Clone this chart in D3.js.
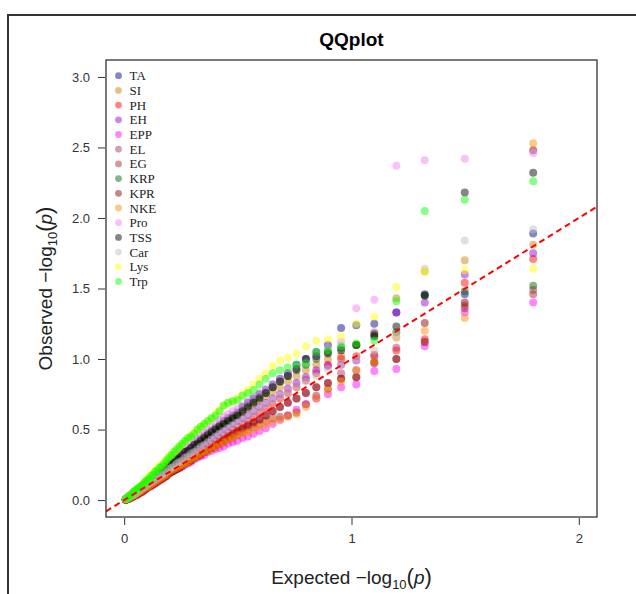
<!DOCTYPE html>
<html>
<head>
<meta charset="utf-8">
<script src="https://cdn.jsdelivr.net/npm/d3@7"></script>
<style>
  body { margin: 0; background: #fff; }
  svg text { font-family: Arial, "Liberation Sans", sans-serif; }
</style>
</head>
<body>
<div id="chart"></div>
<script>
// QQ plot of 15 traits, observed -log10(p) sorted high to low (62 values each)

const traits = ["TA", "SI", "PH", "EH", "EPP", "EL", "EG", "KRP", "KPR", "NKE", "Pro", "TSS", "Car", "Lys", "Trp"];
const colors = ["#00008b", "#cd7f00", "#ff0000", "#9400d3", "#ff00ff", "#b03060", "#a52a2a", "#006400",
                "#8b0000", "#ff8c00", "#ee82ee", "#000000", "#bebebe", "#ffff00", "#00ff00"];

const TA = [1.89, 1.46, 1.46, 1.33, 1.25, 1.24, 1.22, 1.10, 1.05, 1.00,
            0.96, 0.90, 0.86, 0.82, 0.78, 0.75, 0.72, 0.69, 0.66, 0.62,
            0.60, 0.58, 0.56, 0.53, 0.51, 0.49, 0.47, 0.45, 0.43, 0.41,
            0.39, 0.37, 0.35, 0.34, 0.32, 0.30, 0.29, 0.27, 0.26, 0.24,
            0.23, 0.21, 0.20, 0.19, 0.17, 0.16, 0.15, 0.14, 0.13, 0.12,
            0.11, 0.10, 0.09, 0.08, 0.07, 0.06, 0.05, 0.04, 0.03, 0.02,
            0.012, 0.006];
const SI = [1.81, 1.70, 1.62, 1.43, 1.19, 1.10, 1.02, 1.00, 0.96, 0.92,
            0.88, 0.84, 0.80, 0.77, 0.74, 0.71, 0.68, 0.65, 0.62, 0.60,
            0.58, 0.56, 0.54, 0.52, 0.50, 0.48, 0.46, 0.44, 0.42, 0.40,
            0.38, 0.36, 0.34, 0.33, 0.31, 0.30, 0.28, 0.27, 0.25, 0.24,
            0.22, 0.21, 0.20, 0.18, 0.17, 0.16, 0.15, 0.14, 0.13, 0.12,
            0.11, 0.10, 0.09, 0.08, 0.07, 0.06, 0.05, 0.04, 0.03, 0.02,
            0.012, 0.006];
const PH = [1.71, 1.54, 1.14, 1.06, 1.03, 1.02, 1.00, 0.96, 0.90, 0.85,
            0.80, 0.76, 0.72, 0.68, 0.65, 0.62, 0.59, 0.56, 0.54, 0.52,
            0.50, 0.48, 0.46, 0.44, 0.42, 0.40, 0.38, 0.37, 0.35, 0.34,
            0.32, 0.31, 0.29, 0.28, 0.27, 0.25, 0.24, 0.23, 0.21, 0.20,
            0.19, 0.18, 0.17, 0.16, 0.15, 0.14, 0.13, 0.12, 0.11, 0.10,
            0.09, 0.08, 0.07, 0.06, 0.05, 0.045, 0.035, 0.028, 0.02, 0.014,
            0.008, 0.004];
const EH = [1.75, 1.60, 1.40, 1.33, 1.18, 0.99, 0.96, 0.95, 0.92, 0.87,
            0.83, 0.79, 0.75, 0.72, 0.69, 0.66, 0.63, 0.60, 0.58, 0.56,
            0.54, 0.52, 0.50, 0.48, 0.46, 0.44, 0.42, 0.41, 0.39, 0.37,
            0.36, 0.34, 0.32, 0.31, 0.29, 0.28, 0.26, 0.25, 0.24, 0.22,
            0.21, 0.20, 0.18, 0.17, 0.16, 0.15, 0.14, 0.13, 0.12, 0.11,
            0.10, 0.09, 0.08, 0.07, 0.06, 0.05, 0.04, 0.03, 0.025, 0.018,
            0.01, 0.005];
const EPP = [1.40, 1.33, 1.09, 0.93, 0.915, 0.82, 0.80, 0.75, 0.72, 0.68,
             0.64, 0.60, 0.57, 0.54, 0.51, 0.49, 0.47, 0.45, 0.44, 0.42,
             0.41, 0.40, 0.38, 0.37, 0.36, 0.35, 0.34, 0.32, 0.31, 0.30,
             0.29, 0.27, 0.26, 0.25, 0.24, 0.23, 0.22, 0.21, 0.20, 0.19,
             0.17, 0.16, 0.15, 0.14, 0.13, 0.12, 0.11, 0.10, 0.095, 0.085,
             0.075, 0.065, 0.055, 0.05, 0.04, 0.035, 0.028, 0.022, 0.016, 0.01,
             0.006, 0.003];
const EL = [1.49, 1.38, 1.12, 1.08, 1.02, 0.92, 0.90, 0.83, 0.80, 0.76,
            0.72, 0.69, 0.66, 0.63, 0.60, 0.57, 0.54, 0.52, 0.50, 0.48,
            0.46, 0.44, 0.42, 0.40, 0.39, 0.37, 0.36, 0.34, 0.33, 0.31,
            0.30, 0.29, 0.27, 0.26, 0.25, 0.24, 0.22, 0.21, 0.20, 0.19,
            0.18, 0.17, 0.16, 0.15, 0.14, 0.13, 0.12, 0.11, 0.10, 0.09,
            0.08, 0.07, 0.06, 0.055, 0.045, 0.04, 0.032, 0.025, 0.018, 0.012,
            0.007, 0.003];
const EG = [1.46, 1.36, 1.12, 1.00, 0.98, 0.87, 0.86, 0.79, 0.74, 0.68,
            0.62, 0.60, 0.59, 0.58, 0.56, 0.54, 0.52, 0.50, 0.48, 0.46,
            0.44, 0.43, 0.41, 0.40, 0.38, 0.37, 0.35, 0.34, 0.32, 0.31,
            0.30, 0.28, 0.27, 0.26, 0.25, 0.23, 0.22, 0.21, 0.20, 0.19,
            0.18, 0.17, 0.16, 0.15, 0.14, 0.13, 0.12, 0.11, 0.10, 0.09,
            0.08, 0.07, 0.06, 0.055, 0.045, 0.04, 0.032, 0.025, 0.018, 0.012,
            0.007, 0.003];
const KRP = [1.52, 1.48, 1.45, 1.19, 1.17, 1.10, 1.08, 1.05, 1.00, 0.96,
             0.92, 0.88, 0.84, 0.80, 0.76, 0.73, 0.70, 0.67, 0.64, 0.61,
             0.59, 0.57, 0.55, 0.53, 0.51, 0.49, 0.47, 0.45, 0.43, 0.41,
             0.39, 0.37, 0.35, 0.34, 0.32, 0.31, 0.29, 0.28, 0.26, 0.25,
             0.23, 0.22, 0.21, 0.19, 0.18, 0.17, 0.16, 0.15, 0.14, 0.12,
             0.11, 0.10, 0.09, 0.08, 0.07, 0.06, 0.05, 0.04, 0.03, 0.02,
             0.012, 0.006];
const KPR = [2.48, 1.40, 1.255, 1.00, 0.97, 0.87, 0.86, 0.83, 0.80, 0.76,
             0.72, 0.69, 0.66, 0.63, 0.60, 0.57, 0.55, 0.53, 0.51, 0.49,
             0.47, 0.45, 0.43, 0.41, 0.39, 0.37, 0.36, 0.34, 0.33, 0.31,
             0.30, 0.28, 0.27, 0.26, 0.24, 0.23, 0.22, 0.21, 0.20, 0.19,
             0.17, 0.16, 0.15, 0.14, 0.13, 0.12, 0.11, 0.10, 0.095, 0.085,
             0.075, 0.065, 0.055, 0.05, 0.04, 0.035, 0.03, 0.022, 0.016, 0.011,
             0.006, 0.003];
const NKE = [2.53, 1.29, 1.20, 1.15, 0.98, 0.92, 0.84, 0.78, 0.72, 0.66,
             0.61, 0.59, 0.57, 0.56, 0.54, 0.52, 0.50, 0.48, 0.47, 0.46,
             0.44, 0.43, 0.41, 0.40, 0.38, 0.37, 0.35, 0.34, 0.33, 0.31,
             0.30, 0.29, 0.27, 0.26, 0.25, 0.24, 0.23, 0.22, 0.21, 0.20,
             0.18, 0.17, 0.16, 0.15, 0.14, 0.13, 0.12, 0.11, 0.10, 0.09,
             0.085, 0.075, 0.065, 0.055, 0.05, 0.04, 0.035, 0.028, 0.02, 0.014,
             0.008, 0.004];
const Pro = [2.46, 2.42, 2.41, 2.37, 1.42, 1.36, 1.12, 1.08, 1.02, 0.98,
             0.94, 0.90, 0.86, 0.82, 0.79, 0.76, 0.73, 0.70, 0.67, 0.65,
             0.63, 0.61, 0.59, 0.57, 0.55, 0.52, 0.50, 0.48, 0.46, 0.44,
             0.42, 0.40, 0.38, 0.36, 0.34, 0.33, 0.31, 0.29, 0.28, 0.26,
             0.25, 0.23, 0.22, 0.21, 0.19, 0.18, 0.17, 0.16, 0.14, 0.13,
             0.12, 0.11, 0.10, 0.09, 0.08, 0.07, 0.06, 0.05, 0.04, 0.03,
             0.02, 0.01];
const TSS = [2.32, 2.18, 1.45, 1.23, 1.16, 1.10, 1.06, 1.04, 1.02, 1.00,
             0.93, 0.88, 0.84, 0.80, 0.76, 0.72, 0.69, 0.66, 0.63, 0.60,
             0.58, 0.56, 0.54, 0.52, 0.50, 0.48, 0.46, 0.44, 0.42, 0.40,
             0.39, 0.37, 0.35, 0.34, 0.32, 0.30, 0.29, 0.27, 0.26, 0.25,
             0.23, 0.21, 0.20, 0.19, 0.17, 0.16, 0.15, 0.14, 0.13, 0.12,
             0.11, 0.10, 0.09, 0.08, 0.07, 0.06, 0.05, 0.04, 0.03, 0.02,
             0.012, 0.006];
const Car = [1.92, 1.84, 1.64, 1.16, 1.06, 1.00, 0.96, 0.93, 0.88, 0.84,
             0.80, 0.77, 0.74, 0.71, 0.68, 0.65, 0.62, 0.59, 0.57, 0.55,
             0.53, 0.51, 0.49, 0.47, 0.45, 0.43, 0.41, 0.39, 0.38, 0.36,
             0.34, 0.33, 0.31, 0.30, 0.28, 0.27, 0.26, 0.24, 0.23, 0.22,
             0.20, 0.19, 0.18, 0.17, 0.16, 0.15, 0.14, 0.13, 0.12, 0.11,
             0.10, 0.09, 0.08, 0.07, 0.06, 0.05, 0.04, 0.035, 0.025, 0.018,
             0.01, 0.005];
const Lys = [1.64, 1.63, 1.62, 1.51, 1.30, 1.25, 1.16, 1.14, 1.13, 1.09,
             1.04, 1.01, 0.99, 0.95, 0.90, 0.86, 0.82, 0.78, 0.75, 0.72,
             0.70, 0.69, 0.67, 0.64, 0.61, 0.58, 0.56, 0.54, 0.52, 0.50,
             0.48, 0.46, 0.44, 0.42, 0.40, 0.38, 0.36, 0.34, 0.32, 0.31,
             0.29, 0.27, 0.25, 0.24, 0.22, 0.21, 0.19, 0.18, 0.16, 0.15,
             0.13, 0.12, 0.10, 0.09, 0.08, 0.07, 0.06, 0.045, 0.035, 0.025,
             0.015, 0.008];
const Trp = [2.26, 2.13, 2.05, 1.41, 1.13, 1.11, 1.09, 1.06, 1.05, 0.97,
             0.96, 0.94, 0.92, 0.90, 0.86, 0.82, 0.78, 0.76, 0.74, 0.71,
             0.70, 0.69, 0.67, 0.63, 0.60, 0.58, 0.56, 0.54, 0.52, 0.50,
             0.47, 0.45, 0.44, 0.42, 0.40, 0.38, 0.36, 0.34, 0.32, 0.30,
             0.28, 0.26, 0.24, 0.23, 0.21, 0.20, 0.18, 0.17, 0.15, 0.14,
             0.13, 0.11, 0.10, 0.09, 0.08, 0.07, 0.06, 0.045, 0.035, 0.025,
             0.015, 0.008];

const observed = [TA, SI, PH, EH, EPP, EL, EG, KRP, KPR, NKE, Pro, TSS, Car, Lys, Trp];

const xTicks = [0, 1, 2];
const yTicks = [0, 0.5, 1, 1.5, 2, 2.5, 3];

// Layout
const W = 636, H = 594;
const box = { left: 106, right: 597, top: 60, bottom: 517 };

const svg = d3.select("#chart")
    .append("svg")
    .attr("width", W)
    .attr("height", H);

// outer frame
svg.append("path")
    .attr("d", `M8,${H + 5} L8,15 L${W + 5},15`)
    .attr("fill", "none")
    .attr("stroke", "#333")
    .attr("stroke-width", 2);

const x = d3.scaleLinear().domain([-0.08, 2.08]).range([box.left, box.right]);
const y = d3.scaleLinear().domain([-0.12, 3.12]).range([box.bottom, box.top]);

// Build point table: expected = -log10(rank / (n + 1))
const points = [];
observed.forEach((vals, k) => {
    const n = vals.length;
    vals.forEach((v, i) => {
        points.push({ trait: traits[k], color: colors[k], exp: -Math.log10((i + 1) / (n + 1)), obs: v });
    });
});

svg.append("defs").append("clipPath").attr("id", "clip")
    .append("rect")
    .attr("x", box.left).attr("y", box.top)
    .attr("width", box.right - box.left).attr("height", box.bottom - box.top);

// Points
svg.append("g")
    .selectAll("circle")
    .data(points)
    .enter()
    .append("circle")
    .attr("cx", d => x(d.exp))
    .attr("cy", d => y(d.obs))
    .attr("r", 4)
    .attr("fill", d => d.color)
    .attr("fill-opacity", 0.48);

// Reference line y = x
svg.append("line")
    .attr("clip-path", "url(#clip)")
    .attr("x1", x(-0.08)).attr("y1", y(-0.08))
    .attr("x2", x(2.08)).attr("y2", y(2.08))
    .attr("stroke", "red")
    .attr("stroke-width", 2)
    .attr("stroke-dasharray", "6,4");

// Plot box
svg.append("rect")
    .attr("x", box.left).attr("y", box.top)
    .attr("width", box.right - box.left).attr("height", box.bottom - box.top)
    .attr("fill", "none")
    .attr("stroke", "#222")
    .attr("stroke-width", 1.2);

// Axes
const xAxis = svg.append("g")
    .attr("transform", `translate(0,${box.bottom + 1})`)
    .call(d3.axisBottom(x).tickValues(xTicks).tickSize(7).tickPadding(9).tickFormat(d3.format("d")));
const yAxis = svg.append("g")
    .attr("transform", `translate(${box.left - 1},0)`)
    .call(d3.axisLeft(y).tickValues(yTicks).tickSize(7).tickPadding(8).tickFormat(d3.format(".1f")));

[xAxis, yAxis].forEach(g => {
    g.select(".domain").remove();
    g.selectAll("line").attr("stroke", "#333");
    g.selectAll("text").style("font-size", "13px").attr("fill", "#333")
        .style("font-family", "Arial, 'Liberation Sans', sans-serif");
});

// Title
svg.append("text")
    .attr("x", (box.left + box.right) / 2)
    .attr("y", 46)
    .attr("text-anchor", "middle")
    .style("font-size", "19px")
    .style("font-weight", "bold")
    .text("QQplot");

// Axis labels
function axisLabel(g, word) {
    g.append("tspan").text(word + "  \u2212log");
    g.append("tspan").attr("font-size", "13px").attr("dy", 5).text("10");
    g.append("tspan").attr("dy", -5).attr("font-size", "22px").text("(");
    g.append("tspan").style("font-style", "italic").text("p");
    g.append("tspan").attr("font-size", "22px").text(")");
}

const xl = svg.append("text")
    .attr("x", (box.left + box.right) / 2)
    .attr("y", 584)
    .attr("text-anchor", "middle")
    .attr("fill", "#222")
    .style("font-size", "19px");
axisLabel(xl, "Expected");

const yl = svg.append("text")
    .attr("transform", `translate(52,${(box.top + box.bottom) / 2}) rotate(-90)`)
    .attr("text-anchor", "middle")
    .attr("fill", "#222")
    .style("font-size", "19px");
axisLabel(yl, "Observed");

// Legend
const legend = svg.append("g");
traits.forEach((t, k) => {
    const ly = 75.7 + k * 14.7;
    legend.append("circle")
        .attr("cx", 118.5).attr("cy", ly).attr("r", 3.4)
        .attr("fill", colors[k]).attr("fill-opacity", 0.48);
    legend.append("text")
        .attr("x", 129.5).attr("y", ly + 4.5)
        .style("font-family", "'Liberation Serif', 'Times New Roman', serif")
        .style("font-size", "13px")
        .attr("fill", "#222")
        .text(t);
});
</script>
</body>
</html>
